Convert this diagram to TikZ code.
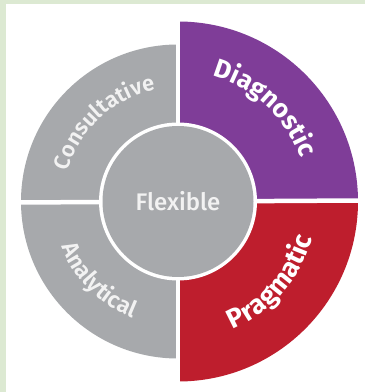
\documentclass[tikz,border=0pt]{standalone}
\usepackage{fontspec}
\setmainfont{Fira Sans}
\newfontfamily\semib{Fira Sans SemiBold}
\newfontfamily\medf{Fira Sans Medium}
\usetikzlibrary{decorations.text}
\definecolor{bggreen}{HTML}{DCE9D2}
\definecolor{qgrey}{HTML}{A7A9AC}
\definecolor{qpurple}{HTML}{7F3D98}
\definecolor{qred}{HTML}{BE1E2D}
\definecolor{softwhite}{HTML}{F2F2F2}
\tikzset{
  gap/.style={white, line width=4.5pt},
  curvedtext/.style={decorate, decoration={text along path, text align=center, text={#1}}}
}
\begin{document}
\begin{tikzpicture}[x=1pt,y=1pt]
\useasboundingbox (0,0) rectangle (365,392);
\fill[bggreen] (0,0) rectangle (365,392);
\fill[white] (6,0) rectangle (365,388);
\begin{scope}[shift={(178,190.5)}]
  \coordinate (c) at (0,0);
  \fill[qgrey] (0,0) -- (180:157) arc[start angle=180,end angle=90,radius=157] -- cycle;
  \fill[qgrey] (0,0) -- (180:157) arc[start angle=180,end angle=270,radius=157] -- cycle;
  \fill[qpurple] (0,0) -- (90:180) arc[start angle=90,end angle=0,radius=180] -- cycle;
  \fill[qred] (0,0) -- (0:180) arc[start angle=0,end angle=-90,radius=180] -- cycle;
  \coordinate (gl) at (-160,-1);
  \coordinate (gr) at (182,1);
  \coordinate (gt) at (0,182);
  \coordinate (gb) at (0,-182);
  \draw[gap] (gl) -- (gr);
  \draw[gap] (gt) -- (gb);
  \fill[white] (c) circle[radius=79];
  \node[circle, fill=qgrey, minimum size=151pt, inner sep=0pt, text=softwhite,
        font=\medf\fontsize{24}{24}\selectfont] (flex) at (c) {Flexible};
  \path[curvedtext={|\semib\fontsize{22}{22}\selectfont\color{softwhite}|Consultative}]
     (168:114) arc[start angle=168,end angle=98,radius=114];
  \path[curvedtext={|\bfseries\fontsize{26}{26}\selectfont\color{white}|Diagnostic}]
     (82:130) arc[start angle=82,end angle=12,radius=130];
  \path[curvedtext={|\bfseries\fontsize{27}{27}\selectfont\color{white}|Pragmatic}]
     (-78:139) arc[start angle=-78,end angle=-4,radius=139];
  \path[curvedtext={|\semib\fontsize{23}{23}\selectfont\color{softwhite}|Analytical}]
     (188:125) arc[start angle=188,end angle=262,radius=125];
\end{scope}
\end{tikzpicture}
\end{document}
